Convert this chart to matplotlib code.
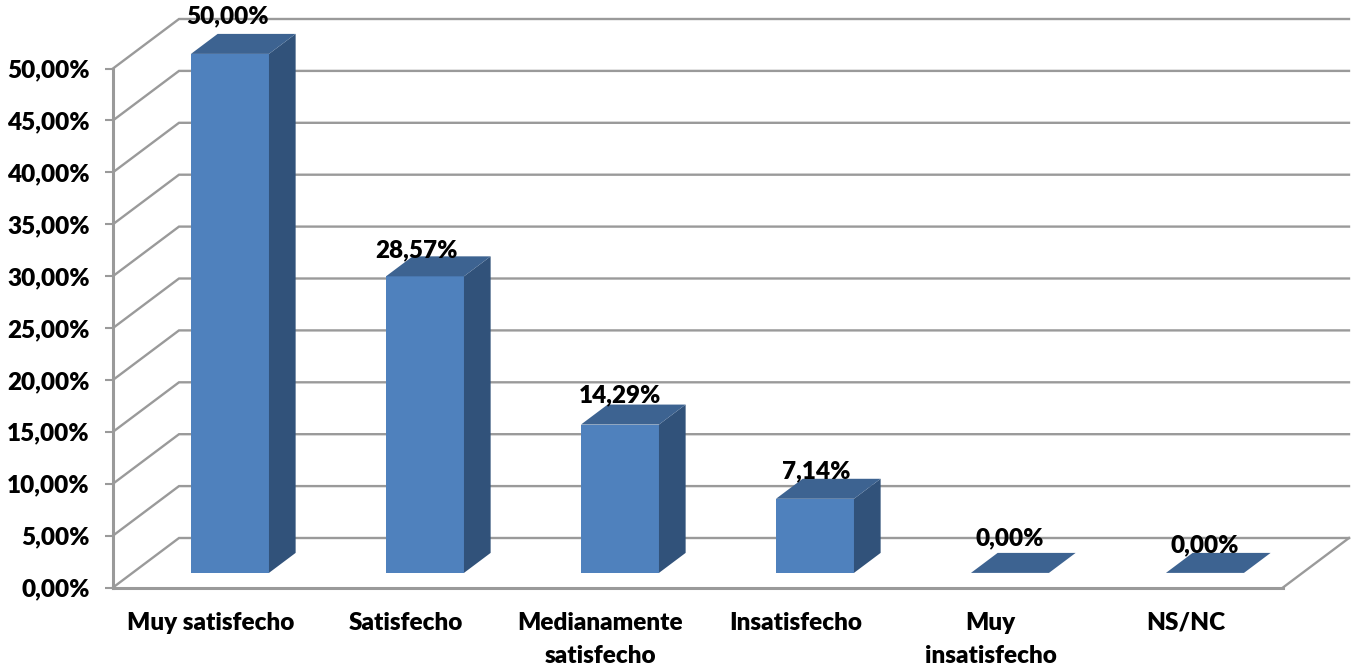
import matplotlib
matplotlib.use('Agg')
import matplotlib.pyplot as plt
from matplotlib.patches import Polygon

# values
categories = ['Muy satisfecho', 'Satisfecho', 'Medianamente\nsatisfecho',
              'Insatisfecho', 'Muy\ninsatisfecho', 'NS/NC']
values = [50.00, 28.57, 14.29, 7.14, 0.00, 0.00]
bar_labels = ['50,00%', '28,57%', '14,29%', '7,14%', '0,00%', '0,00%']
y_ticks = [0, 5, 10, 15, 20, 25, 30, 35, 40, 45, 50]
y_tick_labels = ['0,00%', '5,00%', '10,00%', '15,00%', '20,00%', '25,00%',
                 '30,00%', '35,00%', '40,00%', '45,00%', '50,00%']

# label nudges from the bar top, in points
label_nudges = [(-2, 27), (-6, 19), (0, 21), (1, 20), (0, 25), (0, 20)]

GRID = '#9A9A9A'
FRONT = '#4F81BD'
SIDE = '#31527A'
TOP = '#3D6391'
FONT_SIZE = 17.5

plt.rcParams['font.family'] = ['Lato', 'DejaVu Sans']
plt.rcParams['font.weight'] = 'heavy'

W, H = 1352, 670
fig = plt.figure(figsize=(W / 100, H / 100), dpi=100)
ax = fig.add_axes([113 / W, (H - 587.5) / H, 1170 / W, 519 / H])
ax.set_xlim(-0.5, 5.5)
ax.set_ylim(0, 50)

# depth of the 3D box, in data units
back_x = 66 / 1170 * 6
back_y = 49.5 / 519 * 50


def depth(x, y, d):
    return x + d * back_x, y + d * back_y


# walls and floor
for t in y_ticks:
    ax.plot([-0.5, -0.5 + back_x, 5.5 + back_x], [t, t + back_y, t + back_y],
            color=GRID, lw=1.7, clip_on=False, zorder=1, solid_joinstyle='miter')
ax.plot([5.5, 5.5 + back_x], [0, back_y], color=GRID, lw=1.7, clip_on=False, zorder=1)

# bars
bar_w = 0.4
near = 0.295
far = near + 0.404
for i, v in enumerate(values):
    l, r = i - bar_w / 2, i + bar_w / 2
    if v > 0:
        ax.add_patch(Polygon([depth(l, 0, near), depth(r, 0, near), depth(r, v, near), depth(l, v, near)],
                             fc=FRONT, ec='none', clip_on=False, zorder=3))
        ax.add_patch(Polygon([depth(r, 0, near), depth(r, 0, far), depth(r, v, far), depth(r, v, near)],
                             fc=SIDE, ec='none', clip_on=False, zorder=3))
    ax.add_patch(Polygon([depth(l, v, near), depth(r, v, near), depth(r, v, far), depth(l, v, far)],
                         fc=TOP, ec='none', clip_on=False, zorder=3))
    ax.annotate(bar_labels[i], depth(i, v, near), xytext=label_nudges[i], textcoords='offset points',
                ha='center', va='center', fontsize=FONT_SIZE, color='black', zorder=5, annotation_clip=False)

# axes
ax.patch.set_visible(False)
for side in ['top', 'right']:
    ax.spines[side].set_visible(False)
for side in ['left', 'bottom']:
    ax.spines[side].set_color(GRID)
    ax.spines[side].set_linewidth(2.2)
ax.set_yticks(y_ticks)
ax.set_yticklabels(y_tick_labels, fontsize=FONT_SIZE)
ax.tick_params(axis='y', length=5.8, width=1.5, color=GRID, pad=11)
ax.set_xticks(range(len(categories)))
ax.set_xticklabels(categories, fontsize=FONT_SIZE, linespacing=1.62)
ax.tick_params(axis='x', length=0, pad=17.5)

fig.savefig('out.png', dpi=100)
